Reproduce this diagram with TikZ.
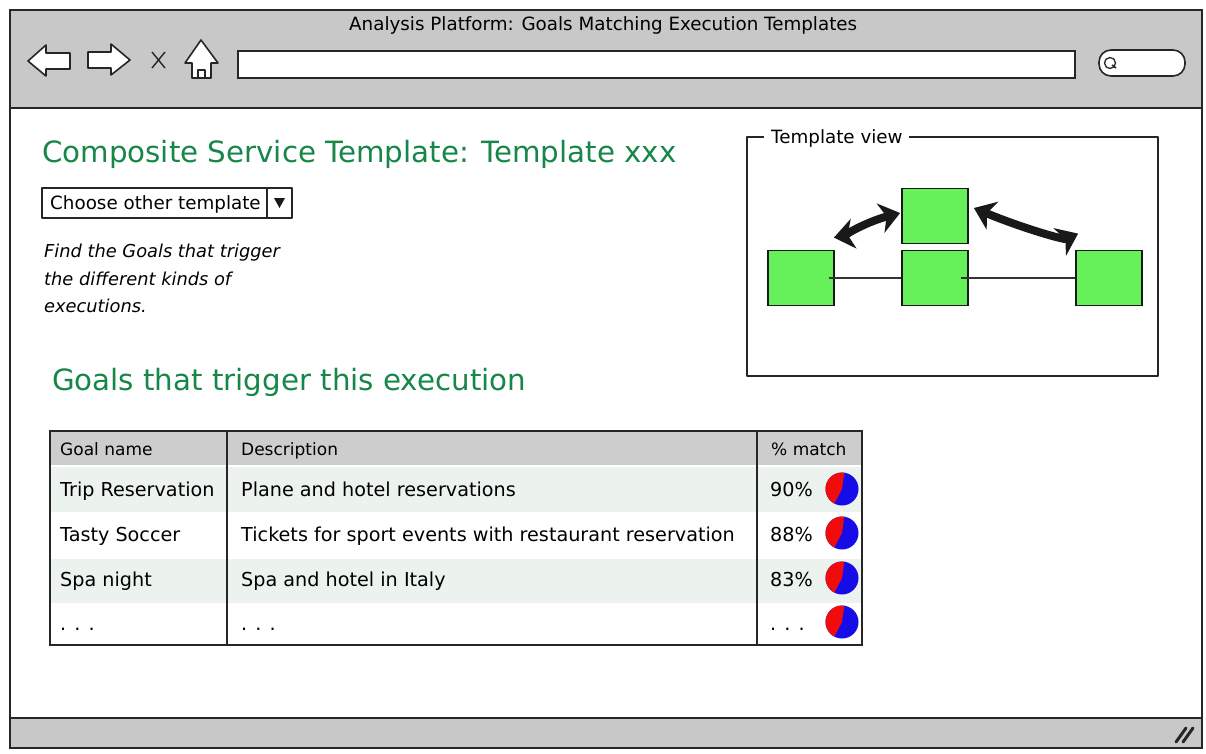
\documentclass[tikz,border=0pt]{standalone}
\usepackage{fontspec}
\setmainfont{DejaVu Sans}
\usetikzlibrary{arrows.meta}
\definecolor{barGray}{RGB}{200,200,200}
\definecolor{headGreen}{RGB}{22,135,72}
\definecolor{boxGreen}{RGB}{102,240,90}
\definecolor{rowTint}{RGB}{236,243,238}
\definecolor{hdrGray}{RGB}{205,205,205}
\definecolor{pieRed}{RGB}{240,12,12}
\definecolor{pieBlue}{RGB}{22,12,232}
\tikzset{
  frame/.style={draw=black!85, line width=2pt},
  ink/.style={draw=black!85, line width=1.6pt, line join=round},
  heading/.style={anchor=base west, text=headGreen, font=\fontsize{29.3}{32}\selectfont, inner sep=0pt},
  label/.style={anchor=base west, font=\fontsize{18.3}{21}\selectfont, inner sep=0pt},
  note/.style={anchor=base west, font=\fontsize{17.8}{20}\selectfont\itshape, inner sep=0pt},
  cell/.style={anchor=base west, font=\fontsize{19.2}{21}\selectfont, inner sep=0pt},
  hcell/.style={anchor=base west, font=\fontsize{17}{20}\selectfont, inner sep=0pt},
  gbox/.style={draw=black!90, line width=1.8pt, fill=boxGreen, minimum width=66pt, minimum height=55pt, inner sep=0pt},
  link/.style={draw=black!80, line width=1.4pt},
  bigarrow/.style={draw=black!90, line width=8pt, {Stealth[length=20pt,width=30pt,inset=6pt]}-{Stealth[length=20pt,width=30pt,inset=6pt]}}
}
\begin{document}
\begin{tikzpicture}[x=1pt,y=-1pt]
\useasboundingbox (0,0) rectangle (1206,753);
\fill[white] (0,0) rectangle (1206,753);

% window chrome: toolbar and status bar
\fill[barGray] (10,10) rectangle (1202,108);
\fill[barGray] (10,718) rectangle (1202,748);
\draw[frame] (10,108) -- (1202,108);
\draw[frame] (10,718) -- (1202,718);
\draw[frame] (10,10) rectangle (1202,748);

\node[label] (title) at (349,30) {Analysis Platform: Goals Matching Execution Templates};

% navigation buttons
\draw[ink, fill=white] (28,61) -- (46,45) -- (46,53) -- (70,53) -- (70,69) -- (46,69) -- (46,76) -- cycle;
\draw[ink, fill=white] (130,60) -- (111,44) -- (111,52) -- (88,52) -- (88,68) -- (111,68) -- (111,75) -- cycle;
\draw[ink, line width=1.4pt] (152,52) -- (165,68) (165,52) -- (152,68);
\draw[ink, fill=white] (185,63) -- (201,40) -- (218,63) -- (211,63) -- (211,78) -- (192,78) -- (192,63) -- cycle;
\draw[ink, line width=1.2pt] (198,78) -- (198,70) -- (205,70) -- (205,78);

% address field and search pill
\draw[frame, fill=white] (238,51) rectangle (1075,78);
\draw[ink, fill=white, rounded corners=12pt] (1099,50) rectangle (1185,76);
\draw[ink, line width=1.3pt] (1110,63) circle (5.5pt);
\draw[ink, line width=1.6pt] (1112,65) -- (1116,68);

% status bar grip
\draw[black!85, line width=3pt, line cap=round] (1176,742) -- (1186,728) (1183,742) -- (1193,728);

% page heading and chooser
\node[heading] (comp) at (42,162) {Composite Service Template: Template xxx};
\draw[ink] (42,188) rectangle (292,218);
\draw[ink] (267,188) -- (267,218);
\node[label] (choose) at (50,209) {Choose other template};
\fill[black!90] (274,198) -- (285,198) -- (279.5,208) -- cycle;

\node[note] (n1) at (44,257) {Find the Goals that trigger};
\node[note] (n2) at (44,285) {the different kinds of};
\node[note] (n3) at (44,312) {executions.};

\node[heading] (goals) at (52,390) {Goals that trigger this execution};

% template view panel
\draw[ink] (764,137) -- (747,137) -- (747,376) -- (1158,376) -- (1158,137) -- (909,137);
\node[label] (tv) at (771,143) {Template view};

\node[gbox] (b1) at (801,278) {};
\node[gbox] (b2) at (935,216) {};
\node[gbox] (b3) at (935,278) {};
\node[gbox] (b4) at (1109,278) {};
\draw[link] ([xshift=-6pt]b1.east) -- (b3.west);
\draw[link] ([xshift=-8pt]b3.east) -- (b4.west);
\draw[bigarrow] ([xshift=-1pt,yshift=12pt]b1.north east) .. controls (842,236) and (866,222) .. ([xshift=-1pt,yshift=3pt]b2.west);
\draw[bigarrow] ([xshift=5pt,yshift=8pt]b2.east) .. controls (1022,228) and (1064,240) .. ([xshift=3pt,yshift=16pt]b4.north west);

% goal table
\fill[hdrGray] (50,431) rectangle (862,465);
\fill[rowTint] (50,467) rectangle (862,512);
\fill[rowTint] (50,559) rectangle (862,603);
\draw[frame] (50,431) rectangle (862,645);
\draw[frame] (227,431) -- (227,645);
\draw[frame] (757,431) -- (757,645);

\node[hcell] (h1) at (60,455) {Goal name};
\node[hcell] (h2) at (241,455) {Description};
\node[hcell] (h3) at (771,455) {\% match};

\node[cell] (r1a) at (60,496) {Trip Reservation};
\node[cell] (r1b) at (241,496) {Plane and hotel reservations};
\node[cell] (r1c) at (770,496) {90\%};
\node[cell] (r2a) at (60,541) {Tasty Soccer};
\node[cell] (r2b) at (241,541) {Tickets for sport events with restaurant reservation};
\node[cell] (r2c) at (770,541) {88\%};
\node[cell] (r3a) at (60,586) {Spa night};
\node[cell] (r3b) at (241,586) {Spa and hotel in Italy};
\node[cell] (r3c) at (770,586) {83\%};
\node[cell] (r4a) at (60,630) {. . .};
\node[cell] (r4b) at (241,630) {. . .};
\node[cell] (r4c) at (770,630) {. . .};

% match pies (y axis points down, so angles run clockwise on the page)
\foreach \cy in {489,533,578,622}{
  \fill[pieBlue] (842,\cy) circle (16.5pt);
  \fill[pieRed] (842,\cy) -- ++(-82:16.5) arc[start angle=-82, end angle=-242, radius=16.5] -- cycle;
}
\end{tikzpicture}
\end{document}
